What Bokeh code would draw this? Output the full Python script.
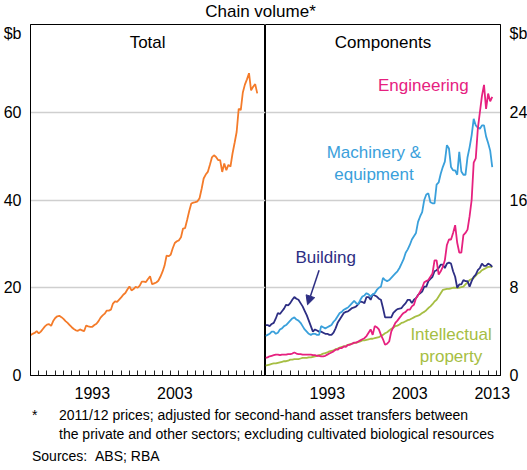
from bokeh.plotting import figure
from bokeh.models import Range1d, FixedTicker, Div, Arrow, NormalHead, Label
from bokeh.layouts import row, column
from bokeh.embed import file_html
from bokeh.resources import INLINE

FONT = "Liberation Sans"

# Quarterly data, $b, 2011/12 prices (first quarter = 1986)
start_year = 1986

total = [
    9.2, 9.5, 9.7, 10.1,   9.6, 10.0, 10.6, 11.2,   11.6, 11.7, 11.3, 12.4,
    13.1, 13.5, 13.6, 13.3, 12.9, 12.4, 12.0, 11.5,  11.0, 10.6, 10.3, 10.2,
    10.5, 10.3, 10.1, 11.4, 11.2, 11.1, 11.1, 11.5,  11.8, 12.4, 13.2, 13.7,
    14.1, 14.8, 14.8, 15.0, 16.4, 16.9, 16.8, 17.3,  17.8, 18.4, 18.8, 19.6,
    20.3, 19.4, 19.7, 20.2, 20.0, 20.5, 21.4, 21.4,  21.3, 22.0, 22.6, 20.8,
    21.0, 21.2, 21.6, 22.5, 23.6, 25.0, 27.3, 27.2,  27.5, 29.0, 30.2, 30.6,
    30.8, 31.5, 33.5, 33.6, 35.5, 37.5, 39.2, 39.4,  39.5, 39.7, 40.4, 42.5,
    44.9, 45.8, 46.4, 48.0, 49.7, 50.2, 49.8, 49.1,  49.1, 46.4, 48.3, 46.8,
    48.0, 47.6, 50.6, 53.0, 55.5, 60.8, 60.5, 64.5,  66.3, 67.5, 68.9, 65.0,
    65.8, 66.4, 64.3,
]

machinery = [
    3.6, 3.7, 3.8, 4.0,  4.0, 3.8, 3.9, 4.2,  4.3, 4.5, 4.6, 4.8,
    5.0, 5.2, 5.3, 5.1,  5.0, 4.8, 4.5, 4.2,  4.0, 3.8, 3.7, 3.8,
    3.8, 3.7, 3.7, 4.5,  4.4, 4.3, 4.4, 4.5,  4.6, 4.9, 5.1, 5.4,
    5.7, 5.8, 6.0, 6.1,  6.2, 6.4, 6.6, 6.8,  6.6, 6.5, 6.9, 7.2,
    7.3, 7.5, 7.4, 7.2,  7.4, 7.5, 7.8, 8.0,  8.1, 8.9, 8.7, 8.6,
    8.7, 8.9, 9.1, 9.3,  9.5, 9.8, 10.2, 10.6, 11.2, 11.5, 11.9, 12.4,
    12.7, 13.0, 14.0, 14.5, 14.9, 16.0, 16.5, 16.6, 15.8, 15.7, 15.7, 17.4,
    17.6, 18.4, 19.0, 19.5, 21.0, 20.7, 19.0, 18.7, 18.7, 18.3, 20.4, 18.6,
    18.3, 18.3, 19.9, 20.8, 21.9, 23.4, 22.8, 22.6, 22.5, 22.8, 22.8, 21.8,
    21.2, 20.5, 19.0,
]

building = [
    4.6, 4.6, 4.5, 4.7,  4.8, 5.2, 5.7, 5.6,  5.85, 6.1, 6.45, 6.4,
    6.6, 6.9, 7.15, 7.0, 6.9, 6.6, 6.3, 5.9,  5.5, 5.0, 4.5, 4.0,
    4.2, 4.1, 4.0, 4.0,  3.9, 3.8, 3.8, 3.7,  3.7, 3.9, 4.3, 4.8,
    5.1, 5.4, 5.7, 5.8,  5.85, 6.0, 6.15, 6.2, 6.3, 6.5, 6.75, 6.7,
    6.6, 7.15, 7.15, 6.9, 7.4, 7.3, 7.2, 7.0, 6.9, 6.15, 5.3, 5.3,
    5.3, 5.3, 5.7, 5.9,  6.05, 6.1, 6.15, 6.4, 6.6, 6.9, 6.9, 6.6,
    6.9, 7.05, 7.35, 7.5, 7.65, 8.1, 8.1, 8.6, 8.8, 9.0, 9.5, 9.6,
    9.8, 10.1, 10.1, 9.8, 10.2, 10.3, 10.2, 9.5, 9.0, 8.0, 8.3, 8.3,
    8.7, 8.6, 8.6, 8.1,  8.6, 9.0, 9.2, 9.6,  9.8, 10.2, 10.0, 10.0,
    10.2, 10.1, 9.9,
]

engineering = [
    1.6, 1.65, 1.75, 1.8,  1.85, 1.9, 1.9, 1.85,  1.9, 1.9, 1.9, 1.95,
    1.95, 2.0, 2.1, 2.0,   1.95, 1.95, 1.9, 1.9,  1.9, 1.9, 1.9, 1.85,
    1.85, 1.8, 1.8, 1.75,  1.75, 1.8, 1.9, 2.0,   2.1, 2.2, 2.35, 2.35,
    2.5, 2.5, 2.65, 2.6,   2.8, 2.8, 2.9, 3.0,    3.0, 3.1, 3.2, 3.3,
    3.4, 3.6, 3.9, 4.2,    3.7, 4.5, 4.4, 4.2,    3.7, 3.3, 2.8, 2.9,
    3.1, 4.0, 4.4, 4.8,    5.0, 5.25, 5.5, 5.7,   5.8, 6.0, 6.0, 6.3,
    6.45, 7.05, 7.3, 7.65, 8.0, 8.5, 8.6, 8.7,    9.0, 9.3, 10.5, 10.5,
    9.2, 9.5, 9.9, 10.5,   11.9, 12.4, 12.4, 13.0, 13.7, 12.1, 11.2, 11.2,
    12.8, 13.0, 13.3, 14.5, 16.0, 19.4, 19.8, 22.5, 24.0, 25.5, 26.5, 24.3,
    25.7, 25.0, 25.4,
]

intellectual = [
    0.9, 0.95, 1.0, 1.05,  1.1, 1.1, 1.15, 1.2,   1.25, 1.3, 1.3, 1.35,
    1.45, 1.45, 1.5, 1.5,  1.5, 1.55, 1.6, 1.6,   1.6, 1.65, 1.65, 1.7,
    1.75, 1.8, 1.85, 1.9,  2.0, 2.05, 2.1, 2.2,   2.25, 2.3, 2.4, 2.45,
    2.55, 2.6, 2.65, 2.7,  2.8, 2.85, 2.9, 2.95,  3.0, 3.05, 3.1, 3.2,
    3.2, 3.25, 3.3, 3.35,  3.35, 3.4, 3.45, 3.5,  3.6, 3.7, 3.85, 3.95,
    4.1, 4.25, 4.35, 4.5,  4.55, 4.65, 4.8, 4.85, 4.95, 5.05, 5.1, 5.2,
    5.3, 5.4, 5.45, 5.55,  5.7, 5.8, 5.95, 6.15,  6.3, 6.5, 6.75, 6.9,
    7.2, 7.5, 7.8, 7.85,   7.9, 7.9, 7.95, 8.0,   8.0, 8.0, 8.0, 8.05,
    8.1, 8.3, 8.5, 8.7,    8.8, 8.9, 9.1, 9.3,    9.4, 9.6, 9.7, 9.8,
    9.9, 9.9, 9.9,
]

quarters = [start_year + 0.25 * i for i in range(len(total))]

year_ticks = list(range(1987, 2015))
left_labels = {1993.5: "1993", 2003.5: "2003"}
right_labels = {1993.5: "1993", 2003.5: "2003", 2013.5: "2013"}
left_yticks = [0, 20, 40, 60]
right_yticks = [0, 8, 16, 24]

ORANGE = "#F47B2A"
PINK = "#E6217F"
BLUE = "#3AA0DB"
NAVY = "#2D2E83"
OLIVE = "#A6BE43"
GRID = "#CFCFCF"


def style(p, xlabels, yticks, unit_pos):
    p.xgrid.visible = False
    p.ygrid.ticker = FixedTicker(ticks=yticks[1:])
    p.ygrid.grid_line_color = GRID
    p.ygrid.grid_line_width = 1.3
    xa = p.xaxis[0]
    xa.ticker = FixedTicker(ticks=list(xlabels.keys()), minor_ticks=year_ticks)
    xa.major_label_overrides = xlabels
    xa.major_tick_line_color = None
    xa.minor_tick_in = 5
    xa.minor_tick_out = 0
    xa.minor_tick_line_color = "#222222"
    xa.major_label_standoff = 5
    ya = p.yaxis[0]
    ya.ticker = FixedTicker(ticks=yticks + [unit_pos])
    ya.major_label_overrides = {unit_pos: "$b"}
    ya.major_tick_line_color = None
    ya.minor_tick_line_color = None
    ya.major_label_standoff = 3
    for ax in (xa, ya):
        ax.axis_line_color = "black"
        ax.axis_line_width = 1
        ax.major_label_text_font = FONT
        ax.major_label_text_font_size = "16px"
        ax.major_label_text_color = "black"
    p.outline_line_color = "black"
    p.outline_line_width = 1
    p.outline_line_alpha = 1


left = figure(frame_width=235, frame_height=351,
              x_range=Range1d(1986, 2014.5), y_range=Range1d(0, 80),
              output_backend="svg", toolbar_location=None,
              min_border_left=20, min_border_right=0,
              min_border_top=2, min_border_bottom=24)
style(left, left_labels, left_yticks, 78)
left.line(quarters, total, line_color=ORANGE, line_width=1.8)
left.add_layout(Label(x=2000.2, y=75.9, text="Total", text_align="center",
                      text_baseline="middle", text_font=FONT,
                      text_font_size="17px", text_color="black"))

right = figure(frame_width=235, frame_height=351,
               x_range=Range1d(1986, 2014.5), y_range=Range1d(0, 32),
               y_axis_location="right",
               output_backend="svg", toolbar_location=None,
               min_border_left=0, min_border_right=21,
               min_border_top=2, min_border_bottom=24)
style(right, right_labels, right_yticks, 31.2)
right.line(quarters, intellectual, line_color=OLIVE, line_width=1.8)
right.line(quarters, building, line_color=NAVY, line_width=1.8)
right.line(quarters, machinery, line_color=BLUE, line_width=1.8)
right.line(quarters, engineering, line_color=PINK, line_width=1.8)

notes = [
    (2000.25, 30.36, "Components", "black"),
    (2005.15, 26.45, "Engineering", PINK),
    (1999.15, 20.36, "Machinery &", BLUE),
    (1999.15, 18.36, "equipment", BLUE),
    (1993.3, 10.73, "Building", NAVY),
    (2008.5, 3.73, "Intellectual", OLIVE),
    (2008.5, 1.73, "property", OLIVE),
]
for x, y, t, c in notes:
    right.add_layout(Label(x=x, y=y, text=t, text_align="center",
                           text_baseline="middle", text_font=FONT,
                           text_font_size="17px", text_color=c))

right.add_layout(Arrow(end=NormalHead(size=9, fill_color=NAVY, line_color=NAVY),
                       x_start=1992.5, y_start=9.6, x_end=1991.1, y_end=6.45,
                       line_color=NAVY, line_width=1.5))

title = Div(text="<div style=\"font-family:'Liberation Sans';font-size:17px;"
                 "text-align:center;line-height:12px;width:511px;color:#000;\">"
                 "Chain volume*</div>",
            width=511, height=12)

foot = Div(text="<div style=\"font-family:'Liberation Sans';font-size:14px;"
                "line-height:19px;color:#000;width:511px;\">"
                "<div style=\"padding-top:0px;display:flex;\">"
                "<span style=\"display:inline-block;width:27px;margin-left:27px;\">*</span>"
                "<span>2011/12 prices; adjusted for second-hand asset transfers between<br>"
                "the private and other sectors; excluding cultivated biological resources</span></div>"
                "<div style=\"margin-top:3px;margin-left:27px;\">Sources:&nbsp;&nbsp;ABS; RBA</div>"
                "</div>",
           width=511, height=60)

layout = column(title, row(left, right), foot)

open("out.html", "w").write(file_html(layout, INLINE))
